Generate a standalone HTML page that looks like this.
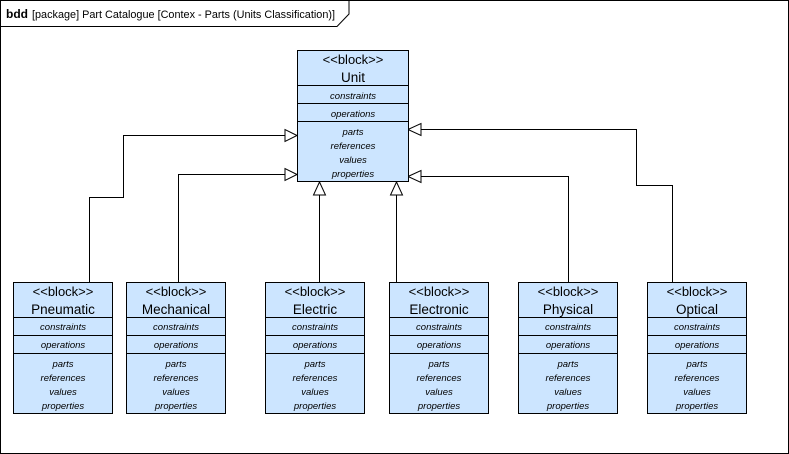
<!DOCTYPE html>
<html><head><meta charset="utf-8"><style>
html,body{margin:0;padding:0;background:#fff;}
svg{display:block;}
text{font-family:"Liberation Sans",sans-serif;fill:#000;}
.st{font-size:13px;}
.nm{font-size:13.5px;}
.it{font-size:9.5px;font-style:italic;}
</style></head><body>
<svg width="789" height="454" viewBox="0 0 789 454" xmlns="http://www.w3.org/2000/svg">
<rect x="0.5" y="0.5" width="788" height="453" fill="#fff" stroke="#000"/>
<path d="M0.5 26.5 H337 L349 14 V0.5" fill="none" stroke="#000"/>
<text x="6" y="18" font-size="12" font-weight="bold">bdd</text>
<text x="32" y="18" font-size="11" textLength="303" lengthAdjust="spacingAndGlyphs">[package] Part Catalogue [Contex - Parts (Units Classification)]</text>

<g fill="none" stroke="#000" stroke-width="1">
<path d="M89.5 282 V197.5 H123.5 V135.5 H285"/>
<path d="M178.5 282 V174.5 H285"/>
<path d="M319.5 282 V195"/>
<path d="M396.5 282 V195"/>
<path d="M568.5 282 V176.5 H421"/>
<path d="M672.5 282 V185.5 H636.5 V129.5 H421"/>
</g>
<g fill="#fff" stroke="#000">
<path d="M297 135.5 L285 129.5 L285 141.5 Z"/>
<path d="M297 174.5 L285 168.5 L285 180.5 Z"/>
<path d="M319.5 182 L313.5 195 L325.5 195 Z"/>
<path d="M396.5 182 L390.5 195 L402.5 195 Z"/>
<path d="M408 129.5 L421 123.5 L421 135.5 Z"/>
<path d="M408 176.5 L421 170.5 L421 182.5 Z"/>
</g>

<g>
<rect x="297.5" y="50.5" width="111" height="131" fill="#cce5ff" stroke="#000"/>
<path d="M297.5 85.5 H408.5 M297.5 103.5 H408.5 M297.5 121.5 H408.5" stroke="#000"/>
<g text-anchor="middle">
<text class="st" x="353" y="64">&lt;&lt;block&gt;&gt;</text>
<text class="nm" x="353" y="82">Unit</text>
<text class="it" x="353" y="99">constraints</text>
<text class="it" x="353" y="117">operations</text>
<text class="it" x="353" y="135">parts</text>
<text class="it" x="353" y="149">references</text>
<text class="it" x="353" y="163">values</text>
<text class="it" x="353" y="177">properties</text>
</g></g>

<g transform="translate(13,0)">
<rect x="0.5" y="282.5" width="99" height="131" fill="#cce5ff" stroke="#000"/>
<path d="M0.5 317.5 H99.5 M0.5 335.5 H99.5 M0.5 353.5 H99.5" stroke="#000"/>
<g text-anchor="middle">
<text class="st" x="50" y="296">&lt;&lt;block&gt;&gt;</text>
<text class="nm" x="50" y="314">Pneumatic</text>
<text class="it" x="50" y="330">constraints</text>
<text class="it" x="50" y="348">operations</text>
<text class="it" x="50" y="367">parts</text>
<text class="it" x="50" y="381">references</text>
<text class="it" x="50" y="395">values</text>
<text class="it" x="50" y="409">properties</text>
</g></g>
<g transform="translate(126,0)">
<rect x="0.5" y="282.5" width="99" height="131" fill="#cce5ff" stroke="#000"/>
<path d="M0.5 317.5 H99.5 M0.5 335.5 H99.5 M0.5 353.5 H99.5" stroke="#000"/>
<g text-anchor="middle">
<text class="st" x="50" y="296">&lt;&lt;block&gt;&gt;</text>
<text class="nm" x="50" y="314">Mechanical</text>
<text class="it" x="50" y="330">constraints</text>
<text class="it" x="50" y="348">operations</text>
<text class="it" x="50" y="367">parts</text>
<text class="it" x="50" y="381">references</text>
<text class="it" x="50" y="395">values</text>
<text class="it" x="50" y="409">properties</text>
</g></g>
<g transform="translate(265,0)">
<rect x="0.5" y="282.5" width="99" height="131" fill="#cce5ff" stroke="#000"/>
<path d="M0.5 317.5 H99.5 M0.5 335.5 H99.5 M0.5 353.5 H99.5" stroke="#000"/>
<g text-anchor="middle">
<text class="st" x="50" y="296">&lt;&lt;block&gt;&gt;</text>
<text class="nm" x="50" y="314">Electric</text>
<text class="it" x="50" y="330">constraints</text>
<text class="it" x="50" y="348">operations</text>
<text class="it" x="50" y="367">parts</text>
<text class="it" x="50" y="381">references</text>
<text class="it" x="50" y="395">values</text>
<text class="it" x="50" y="409">properties</text>
</g></g>
<g transform="translate(389,0)">
<rect x="0.5" y="282.5" width="99" height="131" fill="#cce5ff" stroke="#000"/>
<path d="M0.5 317.5 H99.5 M0.5 335.5 H99.5 M0.5 353.5 H99.5" stroke="#000"/>
<g text-anchor="middle">
<text class="st" x="50" y="296">&lt;&lt;block&gt;&gt;</text>
<text class="nm" x="50" y="314">Electronic</text>
<text class="it" x="50" y="330">constraints</text>
<text class="it" x="50" y="348">operations</text>
<text class="it" x="50" y="367">parts</text>
<text class="it" x="50" y="381">references</text>
<text class="it" x="50" y="395">values</text>
<text class="it" x="50" y="409">properties</text>
</g></g>
<g transform="translate(518,0)">
<rect x="0.5" y="282.5" width="99" height="131" fill="#cce5ff" stroke="#000"/>
<path d="M0.5 317.5 H99.5 M0.5 335.5 H99.5 M0.5 353.5 H99.5" stroke="#000"/>
<g text-anchor="middle">
<text class="st" x="50" y="296">&lt;&lt;block&gt;&gt;</text>
<text class="nm" x="50" y="314">Physical</text>
<text class="it" x="50" y="330">constraints</text>
<text class="it" x="50" y="348">operations</text>
<text class="it" x="50" y="367">parts</text>
<text class="it" x="50" y="381">references</text>
<text class="it" x="50" y="395">values</text>
<text class="it" x="50" y="409">properties</text>
</g></g>
<g transform="translate(647,0)">
<rect x="0.5" y="282.5" width="99" height="131" fill="#cce5ff" stroke="#000"/>
<path d="M0.5 317.5 H99.5 M0.5 335.5 H99.5 M0.5 353.5 H99.5" stroke="#000"/>
<g text-anchor="middle">
<text class="st" x="50" y="296">&lt;&lt;block&gt;&gt;</text>
<text class="nm" x="50" y="314">Optical</text>
<text class="it" x="50" y="330">constraints</text>
<text class="it" x="50" y="348">operations</text>
<text class="it" x="50" y="367">parts</text>
<text class="it" x="50" y="381">references</text>
<text class="it" x="50" y="395">values</text>
<text class="it" x="50" y="409">properties</text>
</g></g>
</svg>
</body></html>
